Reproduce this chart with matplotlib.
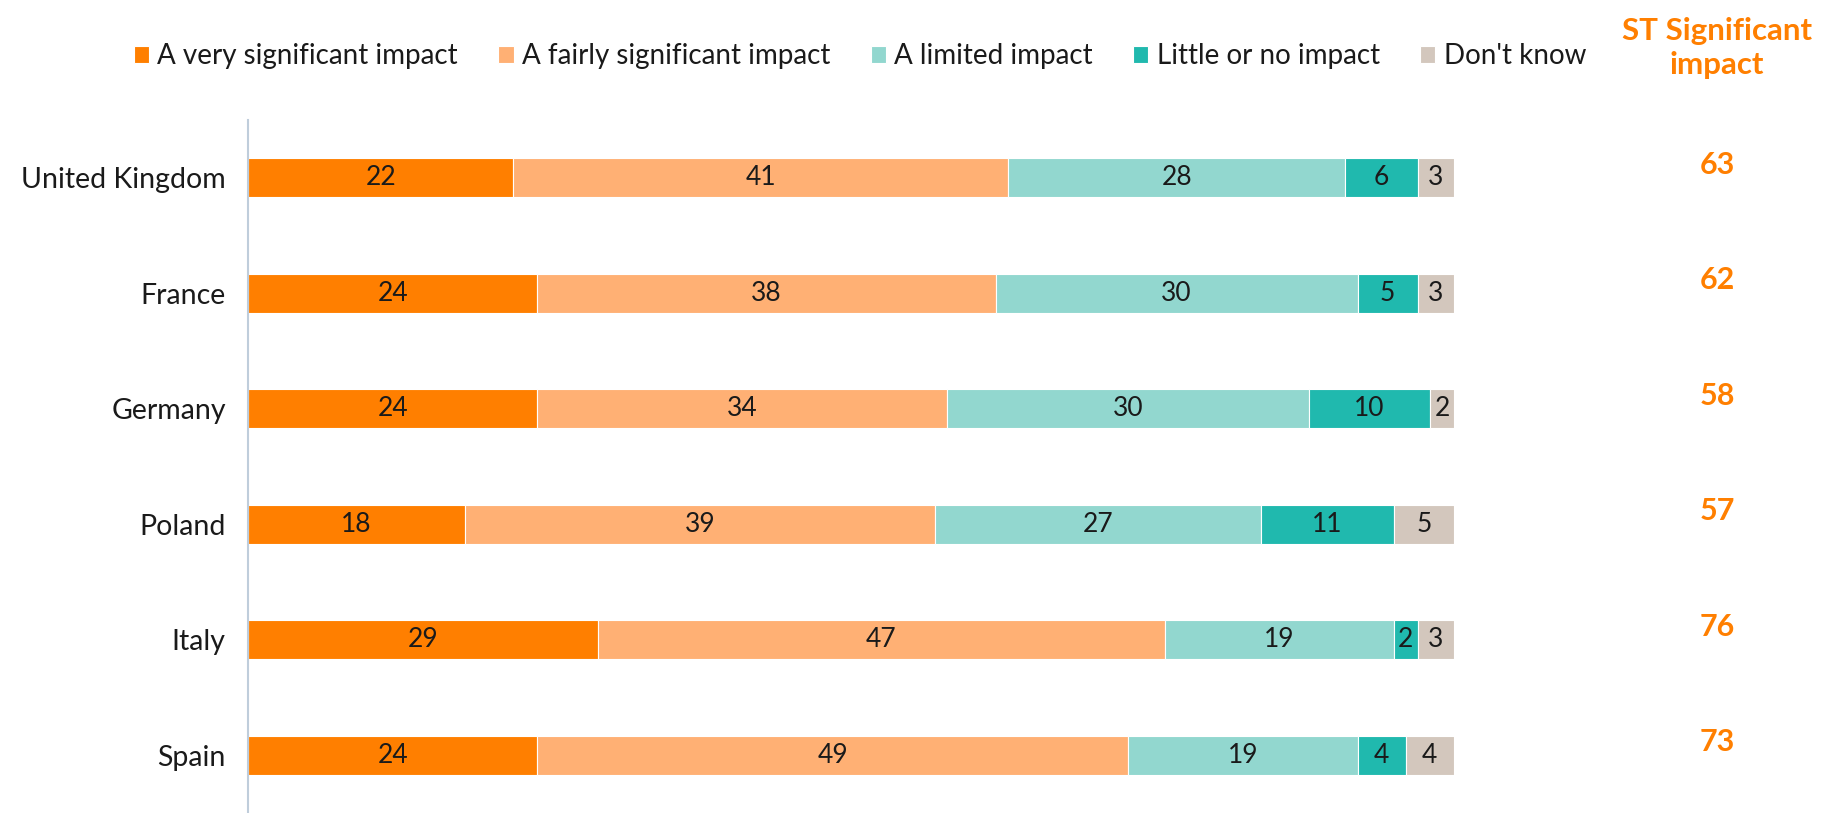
import matplotlib.pyplot as plt
import numpy as np

plt.rcParams['font.family'] = ['Lato', 'DejaVu Sans']

countries = ['United Kingdom', 'France', 'Germany', 'Poland', 'Italy', 'Spain']
very_significant = [22, 24, 24, 18, 29, 24]
fairly_significant = [41, 38, 34, 39, 47, 49]
limited = [28, 30, 30, 27, 19, 19]
little_or_none = [6, 5, 10, 11, 2, 4]
dont_know = [3, 3, 2, 5, 3, 4]
st_significant = [63, 62, 58, 57, 76, 73]

series_names = ['A very significant impact', 'A fairly significant impact',
                'A limited impact', 'Little or no impact', "Don't know"]
colors = ['#FF7F00', '#FFB074', '#92D7CF', '#20B9AE', '#D3C7BD']
orange = '#FF7F00'


def plot_chart(file_name='out.png'):
    fig = plt.figure(figsize=(18.23, 8.13), dpi=100)
    ax = fig.add_axes([248 / 1823, 0.0, (1454 - 248) / 1823, 1 - 120 / 813])

    series = [very_significant, fairly_significant, limited, little_or_none, dont_know]
    y = np.arange(len(countries))
    left = np.zeros(len(countries))
    for name, vals, col in zip(series_names, series, colors):
        vals = np.array(vals, dtype=float)
        bars = ax.barh(y, vals, left=left, height=0.34, color=col,
                       edgecolor='white', linewidth=0.8, label=name)
        for b, v in zip(bars, vals):
            ax.text(b.get_x() + b.get_width() / 2, b.get_y() + b.get_height() / 2,
                    f'{int(v)}', ha='center', va='center', fontsize=19, color='#1a1a1a')
        left += vals

    ax.set_xlim(0, 100)
    ax.set_ylim(len(countries) - 0.5, -0.5)
    ax.set_yticks(y)
    ax.set_yticklabels(countries, fontsize=20.5, color='#1a1a1a')
    ax.tick_params(axis='y', length=0, pad=16)
    ax.set_xticks([])
    for s in ['top', 'right', 'bottom']:
        ax.spines[s].set_visible(False)
    ax.spines['left'].set_color('#BFCDDB')
    ax.spines['left'].set_linewidth(1.5)

    # right-hand "ST Significant impact" column
    xr = 1717 / 1823
    fig.text(xr, 1 - 48 / 813, 'ST Significant\nimpact', ha='center', va='center',
             fontsize=22.5, fontweight='bold', color=orange, linespacing=1.25)
    for yi, v in zip(y, st_significant):
        yd = ax.transData.transform((0, yi))[1]
        yf = fig.transFigure.inverted().transform((0, yd))[1] + 13 / 813
        fig.text(xr, yf, f'{v}', ha='center', va='center',
                 fontsize=22, fontweight='bold', color=orange)

    fig.legend(loc='center', bbox_to_anchor=(860 / 1823, 1 - 56 / 813), ncol=5,
               frameon=False, fontsize=20, handlelength=0.55, handleheight=0.55,
               handletextpad=0.3, columnspacing=1.45, labelcolor='#1a1a1a')

    fig.savefig(file_name, dpi=100)
    plt.close(fig)


if __name__ == '__main__':
    plot_chart()
